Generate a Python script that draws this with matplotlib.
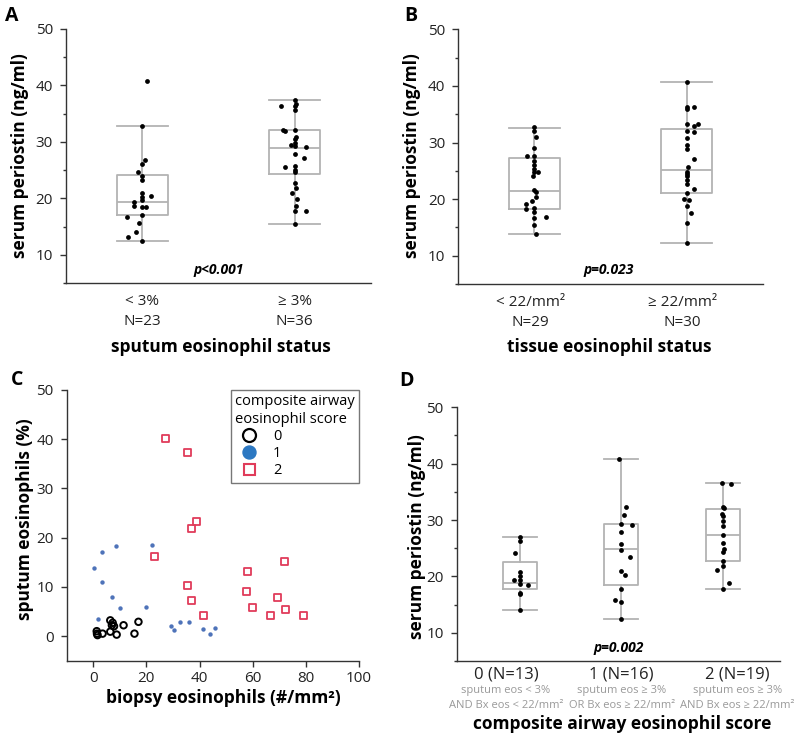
import matplotlib
matplotlib.use('Agg')
import matplotlib.pyplot as plt
from matplotlib.lines import Line2D
from matplotlib.ticker import MultipleLocator

plt.rcParams['font.family'] = ['Open Sans', 'DejaVu Sans']

# ---------------- data ----------------
# Panel A: serum periostin by sputum eosinophil status
a_cats = ['< 3%', '\u2265 3%']
a_ns = ['N=23', 'N=36']
a_low = [40.8, 32.9, 26.8, 26.1, 24.6, 24.0, 23.3, 20.9, 20.4, 20.3, 19.7, 19.3,
         18.6, 18.4, 18.4, 17.1, 16.7, 15.7, 14.0, 13.1, 12.4]
a_low_jit = [0.029, 0, 0.015, 0, -0.031, 0, 0, 0, 0.059, 0, 0, -0.057,
             -0.055, 0, 0.026, 0, -0.10, -0.022, -0.042, -0.092, 0]
a_high = [37.4, 36.8, 36.3, 35.7, 36.3, 32.1, 32.1, 31.9, 30.9, 30.6, 29.8, 29.5,
          29.2, 29.1, 27.9, 27.1, 25.6, 25.8, 25.0, 24.6, 22.8, 21.8, 21.0, 19.9,
          18.7, 17.7, 17.7, 15.5]
a_high_jit = [0, 0.007, 0, 0, -0.092, 0, -0.075, -0.066, 0.007, 0, 0, -0.022,
              0, 0.075, 0, 0.059, -0.061, 0, 0, 0, 0, 0.011, -0.015, 0.018,
              0.007, 0, 0.075, 0]
# box stats: whislo, q1, median, q3, whishi
a_box_low = [12.4, 17.1, 19.3, 24.2, 32.9]
a_box_high = [15.4, 24.3, 29.0, 32.1, 37.4]
a_p = 'p<0.001'

# Panel B: serum periostin by tissue eosinophil status
b_cats = ['< 22/mm\u00b2', '\u2265 22/mm\u00b2']
b_ns = ['N=29', 'N=30']
b_low = [32.8, 32.0, 30.9, 29.1, 27.7, 27.7, 26.7, 26.1, 25.4, 24.8, 24.7, 24.1,
         21.6, 21.2, 20.4, 19.6, 19.2, 18.3, 18.4, 17.7, 16.9, 16.6, 15.4, 13.9]
b_low_jit = [0, 0, 0.009, 0, -0.046, 0, 0, 0, 0, 0.022, 0, -0.009,
             0, 0.009, 0.013, -0.015, -0.057, -0.057, 0, 0, 0.078, 0, 0, 0.009]
b_high = [40.7, 36.3, 36.0, 36.2, 33.3, 32.9, 33.2, 32.0, 31.8, 30.8, 29.6, 28.8,
          27.0, 25.6, 24.8, 24.4, 24.1, 23.3, 22.6, 21.7, 21.0, 20.1, 19.8, 18.7,
          17.6, 15.7, 12.3]
b_high_jit = [0, 0, 0, 0.05, 0.076, 0.048, 0, 0, 0.048, 0, 0, 0,
              0.05, 0.011, 0.004, 0, 0.004, 0, 0, 0.05, 0, -0.017, 0.017, 0,
              0.026, 0, 0]
b_box_low = [13.9, 18.3, 21.4, 27.2, 32.6]
b_box_high = [12.3, 21.0, 25.1, 32.3, 40.7]
b_p = 'p=0.023'

# Panel C: sputum vs biopsy eosinophils by composite score
c0_x = [6.4, 7.3, 7.0, 7.8, 11.4, 17.0, 1.3, 1.4, 1.6, 3.5, 6.4, 8.8, 15.5]
c0_y = [3.2, 2.7, 2.2, 2.0, 2.2, 2.9, 1.0, 0.5, 0.2, 0.5, 0.9, 0.3, 0.5]
c1_x = [3.3, 8.6, 22.0, 0.1, 3.4, 7.0, 9.9, 19.8, 1.6, 29.1, 30.3, 32.8, 36.0,
        41.3, 44.1, 45.8]
c1_y = [17.0, 18.3, 18.6, 13.8, 11.0, 8.0, 5.7, 6.0, 3.4, 2.0, 1.3, 2.9, 2.9,
        1.4, 0.4, 1.6]
c2_x = [27.0, 35.4, 39.0, 37.1, 23.0, 71.9, 58.0, 35.3, 57.6, 69.5, 37.1, 60.0,
        72.3, 41.6, 66.8, 79.0]
c2_y = [40.1, 37.4, 23.3, 21.8, 16.2, 15.2, 13.2, 10.3, 9.0, 7.8, 7.3, 5.9,
        5.4, 4.1, 4.1, 4.1]
c_scores = ['0', '1', '2']

# Panel D: serum periostin by composite score
d_cats = ['0 (N=13)', '1 (N=16)', '2 (N=19)']
d_sub1 = ['sputum eos < 3%', 'sputum eos \u2265 3%', 'sputum eos \u2265 3%']
d_sub2 = ['AND Bx eos < 22/mm\u00b2', 'OR Bx eos \u2265 22/mm\u00b2',
          'AND Bx eos \u2265 22/mm\u00b2']
d_g0 = [27.0, 26.2, 24.2, 20.7, 20.1, 19.4, 19.3, 18.6, 18.5, 17.1, 16.9, 14.1]
d_g0_jit = [0, 0, -0.049, 0, 0, -0.056, 0, 0, 0.082, 0, 0.007, 0]
d_g1 = [40.8, 32.3, 30.9, 29.3, 29.2, 27.8, 25.7, 24.7, 23.4, 21.0, 20.2, 17.8,
        15.8, 15.5, 12.5]
d_g1_jit = [-0.026, 0.043, 0.023, 0, 0.10, 0, 0, 0, 0.082, 0, 0.033, 0,
            -0.066, 0, 0]
d_g2 = [36.5, 36.4, 32.4, 32.1, 31.1, 30.8, 29.9, 29.0, 27.3, 25.9, 24.9, 24.4,
        22.8, 21.9, 21.1, 18.9, 17.8]
d_g2_jit = [-0.007, 0.082, 0, 0.01, -0.007, 0, 0, 0, 0, 0, 0.013, 0,
            0, 0, -0.059, 0.062, 0]
d_box = [[14.1, 17.8, 18.8, 22.5, 27.0],
         [12.5, 18.4, 24.8, 29.3, 40.8],
         [17.8, 22.8, 27.3, 32.0, 36.6]]
d_p = 'p=0.002'

# ---------------- style ----------------
W, H = 800, 742
BOXC = '#b3b3b3'
SPC = '#333333'
TICKFS = 11
LABFS = 12.5
DPI = 100
PX = 72.0 / DPI  # points per pixel

fig = plt.figure(figsize=(W / DPI, H / DPI), dpi=DPI)


def ax_px(l, t, r, b):
    return fig.add_axes([l / W, 1 - b / H, (r - l) / W, (b - t) / H])


def style_box_axes(ax, xlim):
    for s in ('top', 'right'):
        ax.spines[s].set_visible(False)
    for s in ('left', 'bottom'):
        ax.spines[s].set_color(SPC)
        ax.spines[s].set_linewidth(1.0)
    ax.set_ylim(5, 50)
    ax.set_xlim(*xlim)
    ax.yaxis.set_major_locator(MultipleLocator(10))
    ax.yaxis.set_minor_locator(MultipleLocator(5))
    ax.tick_params(axis='y', which='major', length=6 * PX, width=1.0,
                   color=SPC, labelsize=TICKFS, pad=5, labelcolor='#222222')
    ax.tick_params(axis='y', which='minor', length=3.5 * PX, width=1.0, color=SPC)
    ax.tick_params(axis='x', length=0, labelbottom=False)


def draw_boxes(ax, stats, positions):
    bs = [dict(whislo=s[0], q1=s[1], med=s[2], q3=s[3], whishi=s[4], fliers=[])
          for s in stats]
    lp = dict(color=BOXC, linewidth=1.3)
    ax.bxp(bs, positions=positions, widths=0.335, capwidths=0.335,
           showfliers=False, boxprops=lp, whiskerprops=lp, capprops=lp,
           medianprops=lp, zorder=1)


def dots(ax, pos, vals, jit):
    xs = [pos + j for j in jit]
    ax.scatter(xs, vals, s=(4.8 * PX) ** 2, color='black', zorder=3, linewidths=0)


def under_label(ax, x, text, dy_px, dx_px=0, **kw):
    ax.annotate(text, xy=(x, 0), xycoords=('data', 'axes fraction'),
                xytext=(dx_px * PX, -dy_px * PX), textcoords='offset points',
                ha='center', va='center', annotation_clip=False, **kw)


# ---------------- Panel A ----------------
axA = ax_px(66, 29, 371, 283)
style_box_axes(axA, (0.5, 2.5))
draw_boxes(axA, [a_box_low, a_box_high], [1, 2])
dots(axA, 1, a_low, a_low_jit)
dots(axA, 2, a_high, a_high_jit)
for i in range(2):
    under_label(axA, i + 1, a_cats[i], 18.5, fontsize=TICKFS, color='#222222')
    under_label(axA, i + 1, a_ns[i], 38.5, fontsize=TICKFS, color='#222222')
axA.text(1.5, 7.3, a_p, ha='center', va='center', fontsize=10,
         fontweight='bold', fontstyle='italic')
fig.text(20 / W, 1 - 156 / H, 'serum periostin (ng/ml)', rotation=90,
         ha='center', va='center', fontsize=LABFS, fontweight='bold')
fig.text(221 / W, 1 - 347 / H, 'sputum eosinophil status', ha='center',
         va='center', fontsize=LABFS, fontweight='bold')
fig.text(5 / W, 1 - 6 / H, 'A', ha='left', va='top', fontsize=14, fontweight='bold')

# ---------------- Panel B ----------------
axB = ax_px(458.3, 29.3, 762.7, 284)
style_box_axes(axB, (0.5, 2.5))
draw_boxes(axB, [b_box_low, b_box_high], [1, 2])
dots(axB, 1, b_low, b_low_jit)
dots(axB, 2, b_high, b_high_jit)
for i in range(2):
    under_label(axB, i + 1, b_cats[i], 19, dx_px=-4, fontsize=TICKFS, color='#222222')
    under_label(axB, i + 1, b_ns[i], 38.7, dx_px=-4, fontsize=TICKFS, color='#222222')
axB.text(1.49, 7.4, b_p, ha='center', va='center', fontsize=10,
         fontweight='bold', fontstyle='italic')
fig.text(412 / W, 1 - 156 / H, 'serum periostin (ng/ml)', rotation=90,
         ha='center', va='center', fontsize=LABFS, fontweight='bold')
fig.text(609 / W, 1 - 347 / H, 'tissue eosinophil status', ha='center',
         va='center', fontsize=LABFS, fontweight='bold')
fig.text(404 / W, 1 - 6 / H, 'B', ha='left', va='top', fontsize=14, fontweight='bold')

# ---------------- Panel C ----------------
axC = ax_px(66.7, 390, 359, 660.7)
for s in ('top', 'right'):
    axC.spines[s].set_visible(False)
for s in ('left', 'bottom'):
    axC.spines[s].set_color(SPC)
    axC.spines[s].set_linewidth(1.0)
axC.set_xlim(-10, 100)
axC.set_ylim(-5, 50)
axC.xaxis.set_major_locator(MultipleLocator(20))
axC.yaxis.set_major_locator(MultipleLocator(10))
axC.tick_params(axis='both', length=6 * PX, width=1.0, color=SPC,
                labelsize=TICKFS, labelcolor='#222222')
axC.tick_params(axis='y', pad=5)
axC.tick_params(axis='x', pad=3)
BLUE = '#4e73b9'
RED = '#e03c5a'
axC.scatter(c0_x, c0_y, s=(6.5 * PX) ** 2, facecolors='none', edgecolors='black',
            linewidths=1.4, zorder=3)
axC.scatter(c1_x, c1_y, s=(4.4 * PX) ** 2, color=BLUE, linewidths=0, zorder=3)
axC.scatter(c2_x, c2_y, s=(7.0 * PX) ** 2, marker='s', facecolors='none',
            edgecolors=RED, linewidths=1.3, zorder=3)
handles = [
    Line2D([], [], ls='none', marker='o', ms=13 * PX, mfc='none', mec='black', mew=1.6),
    Line2D([], [], ls='none', marker='o', ms=13 * PX, mfc='#2c78c2', mec='#2c78c2'),
    Line2D([], [], ls='none', marker='s', ms=11 * PX, mfc='none', mec=RED, mew=1.5),
]
leg = axC.legend(handles, c_scores, title='composite airway\neosinophil score',
                 loc='upper right', bbox_to_anchor=(1.0, 1.0), frameon=True,
                 fancybox=False, fontsize=10.5, title_fontsize=10.5,
                 borderaxespad=0, borderpad=0.3, handlelength=1.9,
                 handletextpad=0.7, labelspacing=0.15)
leg._legend_box.align = 'left'
leg.get_frame().set_edgecolor('#555555')
leg.get_frame().set_linewidth(1.0)
fig.text(25 / W, 1 - 519 / H, 'sputum eosinophils (%)', rotation=90,
         ha='center', va='center', fontsize=LABFS, fontweight='bold')
fig.text(223 / W, 1 - 698 / H, 'biopsy eosinophils (#/mm\u00b2)', ha='center',
         va='center', fontsize=LABFS, fontweight='bold')
fig.text(11 / W, 1 - 370 / H, 'C', ha='left', va='top', fontsize=14, fontweight='bold')

# ---------------- Panel D ----------------
axD = ax_px(456.7, 407.3, 780, 661)
style_box_axes(axD, (0.38, 3.56))
draw_boxes(axD, d_box, [1, 2, 3])
for i, (g, j) in enumerate([(d_g0, d_g0_jit), (d_g1, d_g1_jit), (d_g2, d_g2_jit)]):
    dots(axD, i + 1, g, j)
label_dx = [-13.7, 0.3, 14.3]
for i in range(3):
    under_label(axD, i + 1, d_cats[i], 13.5, dx_px=label_dx[i], fontsize=12,
                color='#222222')
    under_label(axD, i + 1, d_sub1[i], 29.7, dx_px=label_dx[i], fontsize=8.0,
                color='#999999')
    under_label(axD, i + 1, d_sub2[i], 44, dx_px=label_dx[i], fontsize=8.0,
                color='#999999')
axD.text(1.97, 7.3, d_p, ha='center', va='center', fontsize=10,
         fontweight='bold', fontstyle='italic')
fig.text(417 / W, 1 - 537 / H, 'serum periostin (ng/ml)', rotation=90,
         ha='center', va='center', fontsize=LABFS, fontweight='bold')
fig.text(621.7 / W, 1 - 724 / H, 'composite airway eosinophil score', ha='center',
         va='center', fontsize=LABFS, fontweight='bold')
fig.text(399 / W, 1 - 371 / H, 'D', ha='left', va='top', fontsize=14, fontweight='bold')

fig.savefig('out.png', dpi=DPI)
